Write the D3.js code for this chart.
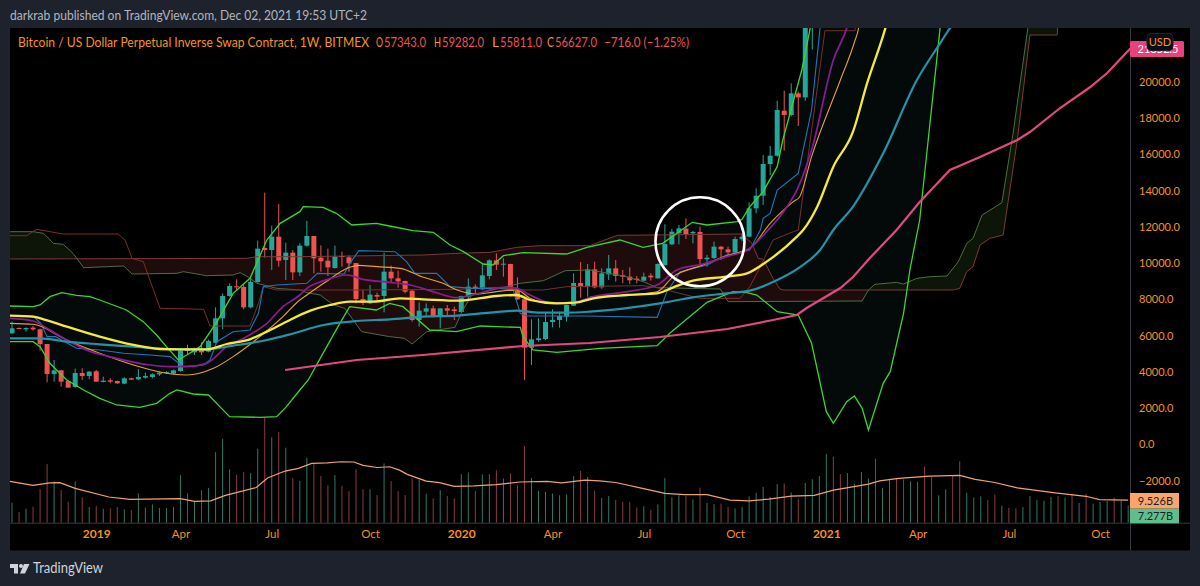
<!DOCTYPE html>
<html lang="en">
<head>
<meta charset="UTF-8">
<title>XBTUSD 1W</title>
<script src="https://d3js.org/d3.v7.min.js"></script>
<style>
    html, body { margin: 0; padding: 0; background: #1e222d; overflow: hidden; }
    svg { display: block; font-family: Lato, "Noto Sans", sans-serif; }
</style>
</head>
<body>
<div class="container"></div>
<script>
// weekly candles, week 0 = Oct 2018: [open, high, low, close]
// the weeks after 114 are above the top of the price pane, so they are left out
const candles = [
    [6125,6769,6088,6401],[6420,6450,6360,6385],[6346,6456,6217,6419],[6438,6530,6272,6346],
    [6346,6383,5168,5536],[5536,5536,3420,3880],[3880,4653,3457,4083],[4083,4101,3181,3457],
    [3494,3549,3126,3126],[3163,4175,3126,3935],[3935,4193,3549,3770],[3770,4046,3586,4009],
    [4027,4101,3439,3457],[3439,3733,3420,3512],[3531,3641,3365,3457],[3494,3512,3328,3365],
    [3347,3696,3328,3641],[3641,3678,3549,3567],[3586,4156,3549,3715],[3678,3954,3623,3770],
    [3715,3917,3641,3862],[3862,4009,3770,3954],[3954,4040,3880,3990],[3899,4120,3862,4083],
    [4046,5297,4009,5187],[5279,5499,4966,5150],[5076,5334,4929,5260],[5279,5628,4929,5076],
    [5113,5775,5076,5702],[5610,7560,5573,6953],[6953,8333,6364,8186],[8186,8885,8149,8738],
    [8719,9106,8462,8683],[8683,8830,7450,7560],[7560,9253,7505,8959],[8959,11240,8922,10799],
    [10835,13890,10300,10725],[10725,12068,9621,11461],[11461,13264,9805,10136],[10173,11130,9069,10578],
    [10578,10725,9069,9492],[9492,11093,9290,10964],[10964,12326,10909,11498],[11498,11498,9437,10265],
    [10302,10983,9529,10099],[10136,10799,9290,9768],[9731,10964,9695,10357],[10394,10633,9805,10339],
    [10320,10431,9529,9989],[10007,10007,7781,8020],[8020,8517,7689,7818],[7781,8793,7744,8259],
    [8241,8370,7873,8149],[8186,10578,7284,9529],[9529,9860,8940,9161],[9161,9584,8646,8995],
    [9014,9032,8333,8425],[8480,8517,6769,6861],[6861,7836,6493,7376],[7321,7781,7082,7505],
    [7505,7652,7008,7045],[7045,7505,6401,7505],[7505,7689,7082,7376],[7450,7597,6861,7358],
    [7303,8205,7266,8186],[8149,9161,8002,8701],[8701,8830,8241,8591],[8554,9989,8517,9327],
    [9290,10210,9106,10155],[10155,10541,9621,9915],[9915,10265,9253,9970],[9952,9970,8480,8480],
    [8480,9216,7965,8002],[8002,8002,3549,5334],[5334,6898,4377,5794],[5757,6953,5665,5849],
    [5812,7266,5757,6751],[6751,7450,6456,6861],[6861,7321,6438,7082],[7045,7705,6769,7689],
    [7652,9437,7634,8903],[8903,10063,8094,8701],[8701,9952,8149,9658],[9658,10081,8609,8664],
    [8664,9713,8591,9437],[9382,10449,9069,9713],[9713,10173,8977,9290],[9327,9621,8885,9253],
    [9253,9768,8848,9051],[9143,9290,8885,9069],[9032,9474,9014,9253],[9308,9437,9032,9216],
    [9161,9989,9143,9952],[9897,12142,9860,11056],[11038,11884,11001,11737],[11645,12105,11038,11921],
    [11903,12473,11332,11608],[11645,11792,11093,11719],[11719,12013,9897,10228],[10210,10449,9805,10302],
    [10283,11185,10228,10909],[10909,10946,10173,10762],[10762,10909,10449,10596],[10578,11461,10541,11332],
    [11314,11600,11200,11461],[11461,13356,11425,13025],[13025,14129,12749,13724],[13724,15969,13209,15472],
    [15472,16466,14865,15932],[15932,18968,15877,18453],[18416,19520,16208,18177],[18177,19925,18100,19373],
    [19373,19465,17570,19152],[19152,24200,18960,23800],[23800,28000,21800,26500]
];

// volume per week, in billions
const volumes = [
    8.4,4.5,5.9,6.7,14.1,24.6,17.4,13.7,8.8,17.4,10.6,6.6,7.1,5.9,6.0,6.6,5.6,5.3,12.3,6.3,
    7.7,6.2,6.2,6.6,19.9,12.3,8.8,13.7,14.6,29.6,35.2,22.4,20.2,21.3,20.9,31.1,52.0,35.9,38.1,31.5,
    18.8,17.5,27.3,24.6,19.6,15.7,20.0,15.4,13.3,22.4,14.1,14.1,11.6,24.9,17.5,13.2,11.6,18.6,18.2,12.2,
    10.2,13.7,11.2,10.2,20.4,21.1,13.3,20.3,20.4,22.0,18.6,20.7,15.8,32.2,18.8,13.3,13.0,12.3,11.5,11.9,
    19.6,21.8,19.2,13.4,10.4,11.2,9.5,8.7,8.7,6.4,6.9,5.3,7.7,18.8,10.6,11.8,11.2,9.8,14.7,8.4,
    7.8,8.0,6.7,6.0,6.6,11.1,12.5,15.0,10.9,16.2,16.5,12.7,9.9,16.7,18.3,19.6,28.9,27.7,20.4,20.9,
    16.4,21.3,18.6,26.9,14.6,17.9,18.6,18.2,17.4,17.2,23.5,19.3,11.5,14.0,19.6,25.8,12.6,10.6,11.1,9.5,
    11.8,7.1,6.2,6.0,6.6,11.2,9.5,9.2,10.8,11.2,10.5,12.2,8.3,12.0,8.0,8.7,9.1,10.6,9.2,7.277
];
// weeks that closed down, for the volume colour
const downWeeks = [1,3,4,5,7,8,10,12,14,15,17,25,27,32,33,36,38,40,43,44,45,47,48,49,50,52,54,55,56,57,60,62,63,
    66,69,71,72,73,81,83,86,87,88,89,91,96,98,101,102,110,112,117,118,123,126,127,130,131,134,135,139,140,142,143,
    149,151,153,157];
const volumeMa = [
    [-0.3,17.4],[3,15.7],[5.4,16.7],[6.8,16.8],[9,14.4],[13.8,10.8],[16.8,9.8],[24,10.1],[26,9.0],[28.3,9.2],
    [30.4,11.5],[34.8,14.8],[36.4,18.8],[38.9,21.7],[40.8,22.8],[42.7,24.9],[44.9,25.1],[46.8,25.6],[48.7,25.5],
    [50,24.1],[52,23.2],[53.8,23.5],[55.2,22.1],[56.3,20.3],[59,17.5],[60.9,16.8],[63,15.3],[65.8,15.5],[69,16],
    [72.3,17.1],[76.2,17.4],[78.3,16.7],[81.6,17.9],[83.7,17.6],[86,16.9],[89.8,14.4],[93,12.3],[95.8,11.8],
    [99,11.8],[102.3,9.5],[105,9.2],[107.8,9.9],[111,11.2],[114.3,11.5],[117,13.7],[122,16.2],[123.6,17.6],
    [126.3,18.6],[130.7,19.6],[135,19.9],[137.2,18.2],[140,16.9],[143.2,14.6],[148.6,12.5],[153,11.1],[154.9,9.7],
    [159,9.526]
];

// overlays, as [week, price]
const ma200 = [
    [38.9,4101],[49.1,4653],[58.5,4929],[72.8,5426],[82.3,5592],[92.3,5923],[101.9,6365],[108.4,6861],[111.8,7137],
    [113.2,7524],[118,8628],[119.8,9235],[122.2,10284],[126,11829],[129.3,13375],[133.6,15141],[137.9,15859],
    [143.2,16797],[145,17239],[149.3,18564],[153.6,19723],[156,20496],[159.3,21852]
];
const ma50 = [
    [-0.3,7100],[3,7045],[4.5,6898],[7.8,6493],[12.5,5941],[17.3,5481],[21.1,5260],[23.9,5242],[27.7,5242],
    [30.6,5536],[33.9,5794],[36.3,6217],[39.1,6769],[42.5,7376],[45.3,7689],[48.1,7873],[51.4,7873],[55.3,8057],
    [58.6,8002],[63.8,7928],[69,8186],[71.9,8241],[73.8,7965],[77.6,7781],[80.5,7836],[82.8,8057],[87.6,8241],
    [91.9,8333],[94.2,8664],[97,9032],[101.8,9253],[104.7,9437],[107.5,10081],[111.8,11461],[112.7,11829],
    [114.7,13117],[117,15325],[119.8,17257],[121.8,19925],[124.4,22961],[125,23800]
];
const ma100 = [
    [-0.3,5849],[4,5849],[7.8,5665],[12.5,5518],[17.3,5389],[22,5260],[24.9,5242],[27.7,5242],[31.5,5444],
    [36.3,5757],[39.6,6070],[44.4,6585],[49.1,6806],[53.8,6898],[58.6,7045],[63.4,7100],[68.1,7266],[71.9,7376],
    [75.2,7266],[79,7266],[82.3,7321],[92.3,7781],[97,8112],[101.8,8333],[105.1,8480],[109,9069],[112.2,9768],
    [115.1,10725],[117,11829],[119.8,13117],[124.1,16061],[128.9,20109],[132.2,22133],[133.6,22961],[135,23600]
];
const ma21 = [
    [-0.3,6953],[3,6806],[5.4,6309],[7.8,5757],[10.6,5205],[14.9,4745],[19.7,4377],[22.5,4285],[24.9,4285],
    [27.7,4469],[30.6,5389],[33.4,5941],[36.3,6677],[38.6,7597],[41,8241],[42,8609],[44.4,9032],[47.7,9345],
    [50,9106],[53.8,8940],[56.7,8793],[60,8425],[63.4,8094],[66.2,8296],[70,8664],[71.9,8609],[73.8,8241],
    [77,7781],[80.5,7873],[82.8,8149],[87.6,8425],[91.9,8793],[94.7,9621],[98.4,9952],[101.8,10357],[105.1,10817],
    [107.5,11737],[110.4,13117],[111.8,14037],[113.9,16245],[117,21213],[118.9,22961],[119.4,23600]
];
const ma30 = [
    [-0.3,6677],[3,6622],[7.8,5757],[12.5,5021],[17.3,4377],[23,3862],[24.9,3825],[28.7,4193],[31.5,4837],
    [35.3,5941],[38.6,7045],[41,7965],[42,8241],[44.4,8885],[48.1,9768],[49.3,9879],[52,9805],[55.3,9713],
    [58.6,9216],[61.4,8885],[63.4,8517],[66.2,8296],[69,8425],[71.9,8517],[73.8,8057],[76.6,7781],[80.5,7836],
    [82.8,8149],[87.6,8241],[91.9,8425],[94.2,9253],[98.4,9897],[101.8,10412],[105.1,10817],[108,12197],
    [111.3,13393],[112.2,13669],[113.9,15877],[118,20109],[120.1,22317],[120.6,23000],[120.8,23600]
];
const conversion = [
    [-0.3,7100],[3,7082],[4.1,6677],[5,5941],[6.2,5941],[9.2,5297],[12.5,5205],[15.9,5021],[19.7,4929],[22.5,4837],
    [24.4,4285],[27.3,4377],[28.2,4653],[29.2,5665],[31.5,6217],[33.9,6309],[35.1,7229],[35.8,8701],[37.7,8793],
    [42,8885],[43.5,9437],[47.3,9400],[48.3,10081],[49.4,10688],[51.5,10670],[54.6,10633],[56.2,10081],[57.4,9437],
    [60.5,9437],[62.4,8701],[65.7,8609],[69.5,8609],[71.4,8517],[72.4,7229],[73.3,7082],[81.8,7082],[91.9,7008],
    [93.3,8425],[95.2,9529],[99,9897],[101.8,10449],[105.1,10725],[106.6,11829],[107,12473],[108,12749],[109,14037],
    [112,14957],[113.9,18453],[115.1,22961],[115.3,23600]
];
const baseLine = [
    [-0.3,11516],[2.1,11516],[3.5,11866],[7.3,11608],[15.1,11608],[16.1,11277],[17.1,10265],[18.7,10081],[21.1,7505],
    [27.3,7450],[28.2,6530],[33.9,6530],[35.1,7781],[35.8,8701],[37.7,8517],[48.6,8517],[63.4,8554],[69,8664],
    [72.8,8517],[75.7,8517],[79,8701],[89.9,8756],[91.9,8646],[97,8149],[98,8057],[103.7,8057],[105.1,8701],
    [106.6,9805],[108.4,11277],[111.3,11737],[112,11829],[115.8,22832],[120.1,22832],[120.2,23800]
];
const spanA = [
    [-0.3,11737],[3,11737],[4.5,11645],[5.9,11093],[7.3,11038],[8.7,10541],[10.2,9750],[15.9,9842],[17.1,9400],
    [23.5,9437],[24.4,9529],[27.7,9308],[31.5,9345],[32.5,9474],[33.7,9216],[34.9,8885],[37.7,8609],[41,8517],
    [42,8370],[43.9,8241],[45.8,7689],[47.4,7505],[49.8,6217],[53.8,5941],[55.9,5849],[57,5536],[59.1,6217],
    [63.1,6456],[64.1,7321],[65.5,8241],[72.4,8885],[75.7,9032],[78.8,9584],[82.3,9621],[87.1,9290],[89.9,8977],
    [91.9,8646],[100.9,8572],[102,7873],[121.1,7910],[122,8517],[122.9,8830],[126,8940],[127,8848],[128.9,9161],
    [130.8,9253],[133.2,9290],[134.8,10081],[136,11093],[136.9,11369],[137.9,12381],[138.2,12657],[141,13338],
    [142.6,17165],[144.7,22961],[145,23789]
];
const spanB = [
    [-0.3,10228],[33.4,10265],[34.9,10357],[41,10357],[58.6,10449],[63.4,10541],[68.1,10596],[71.9,10872],
    [75.2,10964],[82.3,10964],[83.8,11185],[86.2,11535],[104,11608],[105.4,11093],[106.3,10265],[107,10228],
    [108.4,9161],[109.4,8572],[109.9,8517],[134.1,8517],[135,8609],[136,9529],[136.9,9805],[137.9,11001],
    [139.3,11369],[141.2,11553],[141.5,12381],[143.2,16797],[145,22593],[148.9,22593],[149,23800]
];
const bandUpper = [
    [-0.3,7634],[3,7597],[4,7689],[5.4,8149],[7.1,8370],[9.2,8223],[11.1,8149],[12.5,7965],[16.3,7413],[18.7,6769],
    [20.6,6033],[22,5389],[23.7,4653],[24.9,4929],[26.8,5389],[29.2,6769],[31.5,8333],[33.9,9161],[36.3,11277],
    [38.2,12197],[41,12841],[41.5,13117],[44.3,13080],[46.2,12749],[48.4,12105],[51.9,12197],[53.8,12050],
    [57.1,11792],[60,11700],[62.4,11001],[64.3,10633],[67.1,9952],[68.5,9897],[70,10412],[72.8,10578],[79,10504],
    [81.9,10872],[86.6,11277],[89.9,10872],[92.7,11093],[96.9,12252],[99,12105],[103.3,12289],[104,12418],
    [105.1,13117],[107,13945],[109,15325],[109.8,16797],[112.5,20661],[113.7,22961],[114,23789]
];
const bandLower = [
    [-0.3,5665],[3,5665],[4,5389],[5.4,4469],[7.8,3549],[10.2,2997],[12.5,2537],[14.9,2169],[18.2,2040],[20.6,2261],
    [22.5,2813],[23.5,2997],[25.8,2776],[28,2721],[29.6,2077],[31,1525],[35.3,1488],[37.7,1525],[39.1,2077],[41,2997],
    [42.2,3549],[44.3,5021],[46.7,6677],[48.1,7597],[51.9,7413],[53.8,7781],[55.7,7597],[59.5,6309],[61,6272],
    [63.3,6217],[66.7,6530],[69,6493],[72.4,6456],[72.8,5941],[74.2,5205],[77.6,5076],[83.8,5297],[91.9,5444],
    [93.7,6125],[99,7836],[102.7,8425],[104.7,8370],[106.1,8241],[109,7321],[112,7137],[113.9,5573],[116,1801],
    [117,1157],[118.9,2353],[120,2666],[121.1,1985],[122,789],[124.1,3365],[125.1,4009],[127,7229],[127.9,9621],
    [129.3,12381],[132.2,22961],[132.6,23800]
];

const priceTicks = [20000,18000,16000,14000,12000,10000,8000,6000,4000,2000,0,-2000];
const dateWeeks = [12,24,37,51,64,77,90,103,116,129,142,155];
const dateLabels = ["2019","Apr","Jul","Oct","2020","Apr","Jul","Oct","2021","Apr","Jul","Oct"];
const legendLetters = ["O","H","L","C"];
const legendPrices = ["57343.0","59282.0","55811.0","56627.0"];
const legendChange = "\u2212716.0 (\u22121.25%)";

const width = 1200, height = 586;
const orange = "#f7931a", upColour = "#26a69a", downColour = "#ef5350";
const paneLeft = 10, paneRight = 1130, paneTop = 28, volumeBase = 522.7, paneBottom = 550.5, frameRight = 1190;

const x = d3.scaleLinear().domain([0, 159]).range([12, 1128.2]);
const y = d3.scaleLinear().domain([-2000, 20000]).range([480.5, 82]);
const yVol = d3.scaleLinear().domain([0, 50]).range([volumeBase, volumeBase - 119]);

const svg = d3.select(".container").append("svg").attr("width", width).attr("height", height);

svg.append("rect").attr("x", paneLeft).attr("y", paneTop)
    .attr("width", frameRight - paneLeft).attr("height", paneBottom - paneTop).attr("fill", "#000");

svg.append("clipPath").attr("id", "pane").append("rect")
    .attr("x", paneLeft).attr("y", paneTop)
    .attr("width", paneRight - paneLeft).attr("height", volumeBase - paneTop);

// volume sits under the price pane
svg.append("g").selectAll("line").data(volumes).join("line")
    .attr("x1", (d, i) => x(i)).attr("x2", (d, i) => x(i))
    .attr("y1", volumeBase).attr("y2", d => yVol(d))
    .attr("stroke", (d, i) => downWeeks.includes(i) ? "#8a3d42" : "#2f7a68")
    .attr("stroke-width", 1);

const pane = svg.append("g").attr("clip-path", "url(#pane)");

// fills between the bands and between the cloud spans
const polyline = s => d3.scaleLinear().domain(s.map(d => d[0])).range(s.map(d => d[1])).clamp(true);
const upperAt = polyline(bandUpper), lowerAt = polyline(bandLower);
const aAt = polyline(spanA), bAt = polyline(spanB);

pane.append("path")
    .attr("d", d3.area().x(d => x(d)).y0(d => y(upperAt(d))).y1(d => y(lowerAt(d)))(d3.range(-0.3, 132.7, 0.1)))
    .attr("fill", "#040a0a");

const cloudWeeks = d3.range(-0.3, 149.05, 0.1);
const cloudArea = d3.area().x(d => x(d)).y0(d => y(aAt(d))).y1(d => y(bAt(d)));
pane.append("path")
    .attr("d", cloudArea.defined(d => aAt(d) >= bAt(d))(cloudWeeks)).attr("fill", "#0d1509");
pane.append("path")
    .attr("d", cloudArea.defined(d => aAt(d) < bAt(d))(cloudWeeks)).attr("fill", "#1e0c0c");

// candles
const candle = pane.append("g").selectAll("g").data(candles).join("g")
    .attr("fill", d => d[3] >= d[0] ? upColour : downColour)
    .attr("stroke", d => d[3] >= d[0] ? upColour : downColour);
candle.append("line")
    .attr("x1", (d, i) => x(i)).attr("x2", (d, i) => x(i))
    .attr("y1", d => y(d[1])).attr("y2", d => y(d[2]))
    .attr("stroke-width", 1);
candle.append("rect")
    .attr("x", (d, i) => x(i) - 2.5).attr("width", 5)
    .attr("y", d => y(Math.max(d[0], d[3])))
    .attr("height", d => Math.max(1, Math.abs(y(d[0]) - y(d[3]))))
    .attr("stroke", "none");

// overlay lines, the shorter averages are smooth and the rest stays angular
const line = d3.line().x(d => x(d[0])).y(d => y(d[1]));
const smoothLine = d3.line().x(d => x(d[0])).y(d => y(d[1])).curve(d3.curveMonotoneX);
const overlays = [
    [spanB, "#7a3a36", 1, line],
    [spanA, "#4f6b45", 1, line],
    [baseLine, "#7a2f2c", 1, line],
    [conversion, "#2276b5", 1.1, line],
    [ma30, "#e8a033", 1.1, smoothLine],
    [bandUpper, "#3fd42f", 1.3, line],
    [bandLower, "#3fd42f", 1.3, line],
    [ma21, "#8a1c8f", 1.7, smoothLine],
    [ma100, "#2592a8", 2.2, smoothLine],
    [ma50, "#f5ea3a", 2.3, smoothLine],
    [ma200, "#e0497f", 2.2, line]
];
pane.selectAll("path.overlay").data(overlays).join("path")
    .attr("class", "overlay")
    .attr("d", d => d[3](d[0]))
    .attr("fill", "none")
    .attr("stroke", d => d[1])
    .attr("stroke-width", d => d[2]);

// the circled consolidation
pane.append("circle")
    .attr("cx", x(98)).attr("cy", y(11180)).attr("r", 44.5)
    .attr("fill", "none").attr("stroke", "#fff").attr("stroke-width", 2.6);

// volume average
svg.append("path")
    .attr("d", d3.line().x(d => x(d[0])).y(d => yVol(d[1]))(volumeMa))
    .attr("fill", "none").attr("stroke", "#f0a274").attr("stroke-width", 1.2);

// axes
svg.append("line").attr("x1", paneLeft).attr("x2", frameRight)
    .attr("y1", volumeBase + 0.5).attr("y2", volumeBase + 0.5).attr("stroke", "#363a45");
svg.append("line").attr("x1", paneRight + 0.5).attr("x2", paneRight + 0.5)
    .attr("y1", paneTop).attr("y2", paneBottom).attr("stroke", "#363a45");

const yAxis = svg.append("g").attr("transform", `translate(${paneRight},0)`)
    .call(d3.axisRight(y).tickValues(priceTicks).tickSize(0).tickPadding(9)
        .tickFormat(d => (d < 0 ? "\u2212" : "") + Math.abs(d).toFixed(1)));
const xAxis = svg.append("g").attr("transform", `translate(0,${volumeBase})`)
    .call(d3.axisBottom(x).tickValues(dateWeeks).tickSize(0).tickPadding(7)
        .tickFormat((d, i) => dateLabels[i]));
[yAxis, xAxis].forEach(a => {
    a.select(".domain").remove();
    a.selectAll("text").attr("fill", orange).attr("font-size", 11)
        .attr("font-family", "Lato, 'Noto Sans', sans-serif");
});
xAxis.selectAll("text").attr("font-weight", (d, i) => /^\d/.test(dateLabels[i]) ? 700 : 400)
    .attr("font-size", (d, i) => /^\d/.test(dateLabels[i]) ? 12 : 11.5);

// last value tags, the USD badge covers the last price as it does on the original
const tags = svg.append("g").attr("font-size", 11);
tags.append("rect").attr("x", paneRight).attr("y", 41).attr("width", 54).attr("height", 16).attr("rx", 1.5).attr("fill", "#e8417f");
tags.append("text").attr("x", 1178.5).attr("y", 53).attr("text-anchor", "end").attr("fill", "#fff").text("21852.5");
tags.append("rect").attr("x", 1147).attr("y", 33.5).attr("width", 26).attr("height", 17).attr("rx", 4)
    .attr("fill", "#0b0d12").attr("stroke", "#1e222d");
tags.append("text").attr("x", 1160).attr("y", 46).attr("text-anchor", "middle").attr("fill", orange).attr("font-size", 11).text("USD");
tags.append("rect").attr("x", paneRight).attr("y", 493).attr("width", 49).attr("height", 15.7).attr("fill", "#fba46c");
tags.append("text").attr("x", 1173).attr("y", 505).attr("text-anchor", "end").attr("fill", "#1a1d26").text("9.526B");
tags.append("rect").attr("x", paneRight).attr("y", 508.7).attr("width", 49).attr("height", 14.6).attr("fill", "#5fbf8c");
tags.append("text").attr("x", 1173).attr("y", 520).attr("text-anchor", "end").attr("fill", "#1a1d26").text("7.277B");

// header and legend, squeezed to the width of the narrower original face
const squeezed = (px, py, length, colour, label) => svg.append("text")
    .attr("x", px).attr("y", py).attr("font-size", 13).attr("fill", colour)
    .attr("textLength", length).attr("lengthAdjust", "spacingAndGlyphs").text(label);

squeezed(10, 20, 357, "#b2b5be", "darkrab published on TradingView.com, Dec 02, 2021 19:53 UTC+2");
squeezed(18, 47, 351, orange, "Bitcoin / US Dollar Perpetual Inverse Swap Contract, 1W, BITMEX");
[376, 434, 492, 547].forEach((px, i) => {
    squeezed(px, 47, 7, orange, legendLetters[i]);
    squeezed(px + 8, 47, 42, downColour, legendPrices[i]);
});
squeezed(604, 47, 85, downColour, legendChange);

// footer logo
const logo = svg.append("g").attr("fill", "#d1d4dc");
logo.append("path").attr("d", "M10 564h8v9.5h-4v-5.5h-4z");
logo.append("circle").attr("cx", 21).attr("cy", 566).attr("r", 2);
logo.append("path").attr("d", "M24 564h5.5l-4.5 9.5h-5z");
svg.append("text").attr("x", 33).attr("y", 573).attr("font-size", 14.5).attr("fill", "#d1d4dc")
    .attr("textLength", 70).attr("lengthAdjust", "spacingAndGlyphs").text("TradingView");
</script>
</body>
</html>
